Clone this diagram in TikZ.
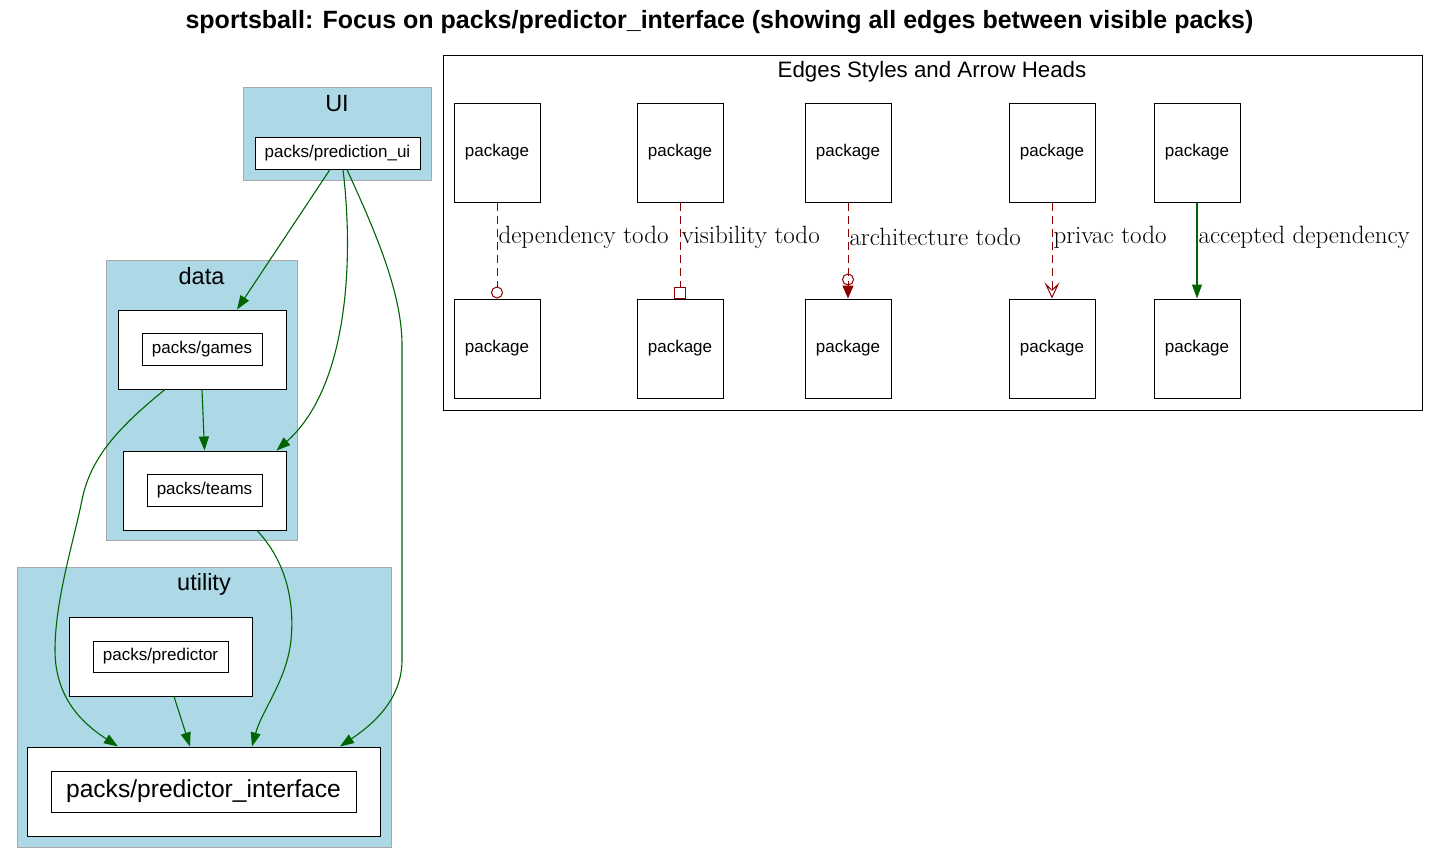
\documentclass[tikz,border=0pt]{standalone}
\usepackage{fontspec}
\setsansfont{Liberation Sans}
\usetikzlibrary{arrows.meta,positioning}
\definecolor{clusterblue}{HTML}{ADD8E6}
\definecolor{clusteredge}{HTML}{A9A9A9}
\definecolor{depgreen}{HTML}{006400}
\definecolor{todored}{HTML}{8B0000}

\begin{document}
\begin{tikzpicture}[x=1pt,y=-1pt,
  cluster/.style={fill=clusterblue,draw=clusteredge,line width=1pt},
  clusterlabel/.style={inner sep=0pt,font=\sffamily\fontsize{23.5}{26}\selectfont},
  pack/.style={draw,fill=white,line width=1pt,inner sep=0pt},
  packname/.style={pack,font=\sffamily\fontsize{17}{20}\selectfont},
  legendpack/.style={packname,minimum width=86pt,minimum height=99pt},
  accepted/.style={draw=depgreen,line width=1.1pt,-{Triangle[length=14pt,width=10pt]}},
  todo/.style={draw=todored,line width=1pt,dash pattern=on 8pt off 5pt},
  edgelabel/.style={right,inner sep=1pt,font=\fontsize{25}{27}\selectfont}
]
  \useasboundingbox (0,0) rectangle (1439,865);

  % Title
  \node[font=\sffamily\bfseries\fontsize{25}{28}\selectfont] (title) at (719.5,22)
    {sportsball: Focus on packs/predictor\_interface (showing all edges between visible packs)};

  % Clusters
  \draw[cluster] (243,87) rectangle (431,180);
  \node[clusterlabel] (uilabel) at (337,104) {UI};
  \draw[cluster] (106,260) rectangle (297,540);
  \node[clusterlabel] (datalabel) at (201.5,276) {data};
  \draw[cluster] (17,567) rectangle (391,847);
  \node[clusterlabel] (utilitylabel) at (204,584) {utility};

  % Packs
  \node[packname,minimum width=165pt,minimum height=32pt] (pui) at (337.5,153) {packs/prediction\_ui};
  \node[pack,minimum width=168pt,minimum height=79pt] (games) at (202,349.5) {};
  \node[packname,minimum width=120pt,minimum height=32pt] (gamesname) at (games) {packs/games};
  \node[pack,minimum width=163pt,minimum height=79pt] (teams) at (204.5,490.5) {};
  \node[packname,minimum width=115pt,minimum height=32pt] (teamsname) at (teams) {packs/teams};
  \node[pack,minimum width=183pt,minimum height=79pt] (pred) at (160.5,656.5) {};
  \node[packname,minimum width=135pt,minimum height=31pt] (predname) at (pred) {packs/predictor};
  \node[pack,minimum width=353pt,minimum height=89pt] (pif) at (203.5,791.5) {};
  \node[pack,minimum width=305pt,minimum height=41pt,font=\sffamily\fontsize{24.6}{28}\selectfont]
    (pifname) at (pif) {packs/predictor\_interface};

  % Dependencies
  \draw[accepted] ([xshift=-7.5pt]pui.south) -- ([xshift=35pt]games.north);
  \draw[accepted] ([xshift=5.5pt]pui.south) .. controls (355,270) and (345,390) .. ([xshift=-10pt]teams.north east);
  \draw[accepted] ([xshift=9.5pt]pui.south) .. controls (372,225) and (402,290) .. (402,345)
    -- (402,660) .. controls (402,700) and (372,725) .. ([xshift=136.5pt]pif.north);
  \draw[accepted] (games.south) -- (teams.north);
  \draw[accepted] ([xshift=-37pt]games.south) .. controls (115,430) and (90,460) .. (82,500)
    .. controls (74,540) and (55,600) .. (55,650) .. controls (55,700) and (85,725) .. ([xshift=-85.5pt]pif.north);
  \draw[accepted] ([xshift=52.5pt]teams.south) .. controls (285,560) and (295,600) .. (291,640)
    .. controls (287,680) and (262,710) .. ([xshift=48.5pt]pif.north);
  \draw[accepted] ([xshift=13.5pt]pred.south) -- ([xshift=-13.5pt]pif.north);

  % Legend
  \draw[line width=1pt] (443,55) rectangle (1422,410);
  \node[font=\sffamily\fontsize{22.3}{25}\selectfont] (legendtitle) at (932,72) {Edges Styles and Arrow Heads};
  \foreach \x [count=\i] in {497,680,848,1052,1197} {
    \node[legendpack] (top\i) at (\x,152.5) {package};
    \node[legendpack] (bot\i) at (\x,348.5) {package};
  }
  \draw[todo,-{Circle[open,length=12pt,width=12pt]}] (top1) -- (bot1)
    node[edgelabel,pos=0.36] (lab1) {dependency todo};
  \draw[todo,-{Square[open,length=12pt,width=12pt]}] (top2) -- (bot2)
    node[edgelabel,pos=0.36] (lab2) {visibility todo};
  \draw[todo,-{Circle[open,length=12pt,width=12pt] Triangle[length=13pt,width=11pt]}] (top3) -- (bot3)
    node[edgelabel,pos=0.36] (lab3) {architecture todo};
  \draw[todo,-{Stealth[open,length=16pt,width=15pt,inset=7pt]}] (top4) -- (bot4)
    node[edgelabel,pos=0.36] (lab4) {privac todo};
  \draw[accepted] (top5) -- (bot5)
    node[edgelabel,pos=0.36] (lab5) {accepted dependency};

\end{tikzpicture}
\end{document}
